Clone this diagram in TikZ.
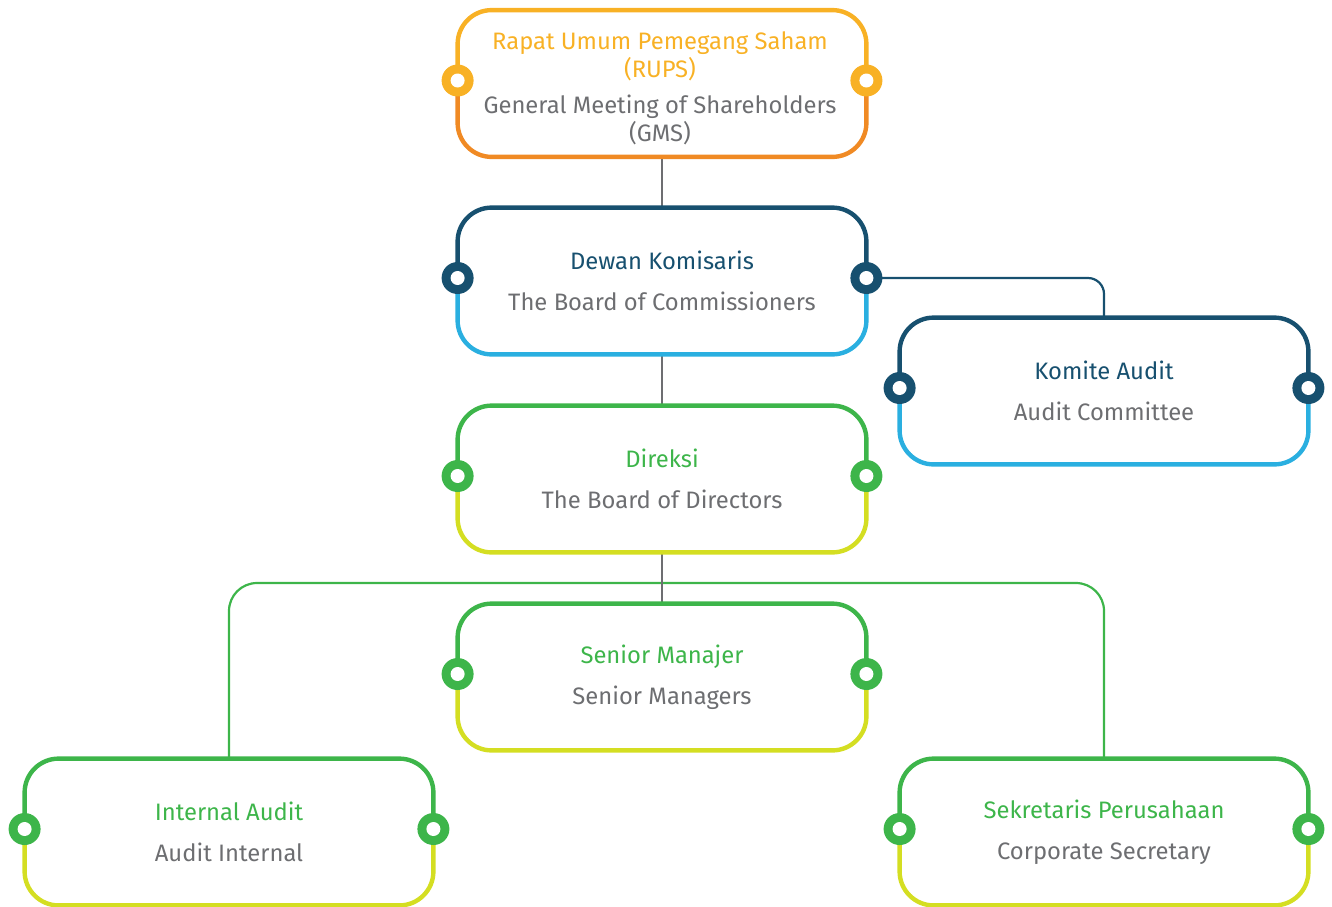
\documentclass[tikz,border=0pt]{standalone}
\usepackage{fontspec}
\setmainfont{Fira Sans}
\usetikzlibrary{calc,backgrounds}
\definecolor{rupsgold}{HTML}{F8B125}
\definecolor{rupsorange}{HTML}{F08A24}
\definecolor{navyteal}{HTML}{17506F}
\definecolor{skyblue}{HTML}{2AAFE0}
\definecolor{leafgreen}{HTML}{3DB54A}
\definecolor{limeyellow}{HTML}{D4DE22}
\definecolor{textgray}{HTML}{6D6E71}

\tikzset{
  orgbox/.style={minimum width=204pt, minimum height=73pt, inner sep=0pt,
    align=center, text=textgray, font=\fontsize{11.9}{14}\selectfont},
  boxline/.style={line width=2.2pt, rounded corners=17pt},
  wire/.style={line width=1.1pt},
}
% two coloured border with the side rings
\newcommand{\orgframe}[3]{%
  \coordinate (#1-l) at ($(#1.west)+(0,-3)$);
  \coordinate (#1-r) at ($(#1.east)+(0,-3)$);
  \draw[boxline,#2] (#1-l) |- (#1.north) -| (#1-r);
  \draw[boxline,#3] (#1-l) |- (#1.south) -| (#1-r);
  \foreach \s in {l,r}{
    \fill[#2] (#1-\s) circle (8pt);
    \fill[white] (#1-\s) circle (3.5pt);
  }%
}

\begin{document}
\begin{tikzpicture}[x=0.5pt,y=-0.5pt]
    \useasboundingbox (0,0) rectangle (1332,906);

    % boxes
    \node[orgbox] (rups) at (662,83.5) {};
    \node[orgbox] (rupstext) at (660,88) {\textcolor{rupsgold}{Rapat Umum Pemegang Saham}\\
      \textcolor{rupsgold}{(RUPS)}\\[4pt]General Meeting of Shareholders\\(GMS)};
    \node[orgbox] (dewan) at (662,281) {\textcolor{navyteal}{Dewan Komisaris}\\[6.5pt]The Board of Commissioners};
    \node[orgbox] (komite) at (1104,391) {\textcolor{navyteal}{Komite Audit}\\[6.5pt]Audit Committee};
    \node[orgbox] (direksi) at (662,479) {\textcolor{leafgreen}{Direksi}\\[6.5pt]The Board of Directors};
    \node[orgbox] (senior) at (662,677) {\textcolor{leafgreen}{Senior Manajer}\\[6.5pt]Senior Managers};
    \node[orgbox] (internal) at (229,832) {\textcolor{leafgreen}{Internal Audit}\\[6.5pt]Audit Internal};
    \node[orgbox] (sekretaris) at (1104,832) {\textcolor{leafgreen}{Sekretaris Perusahaan}\\[6.5pt]Corporate Secretary};

    % connectors
    \begin{scope}[on background layer]
        \coordinate (bus) at (662,583);
        \draw[wire,leafgreen,rounded corners=14pt] (internal.north) |- (bus) -| (sekretaris.north);
        \draw[wire,textgray] (rups.south) -- (dewan.north);
        \draw[wire,textgray] (dewan.south) -- (direksi.north);
        \draw[wire,textgray] (direksi.south) -- (senior.north);
        \draw[wire,navyteal,rounded corners=8pt] ($(dewan.east)+(0,-3)$) -| (komite.north);
    \end{scope}

    % borders
    \orgframe{rups}{rupsgold}{rupsorange}
    \orgframe{dewan}{navyteal}{skyblue}
    \orgframe{komite}{navyteal}{skyblue}
    \orgframe{direksi}{leafgreen}{limeyellow}
    \orgframe{senior}{leafgreen}{limeyellow}
    \orgframe{internal}{leafgreen}{limeyellow}
    \orgframe{sekretaris}{leafgreen}{limeyellow}
\end{tikzpicture}
\end{document}
